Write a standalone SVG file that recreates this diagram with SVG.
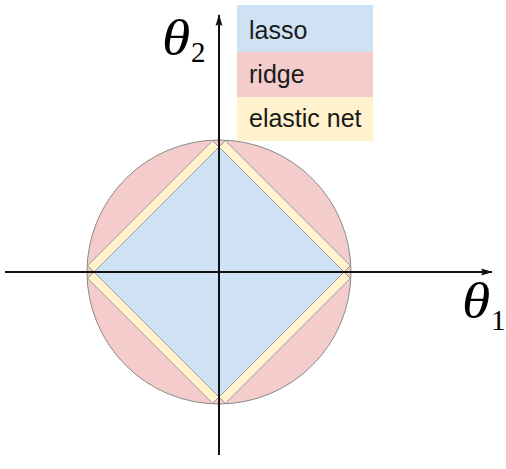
<svg xmlns="http://www.w3.org/2000/svg" width="506" height="469" viewBox="0 0 506 469">
  <style>
    .strip { fill: #fff2cc; stroke: #999999; stroke-width: 1; stroke-linejoin: round; }
    .axis { stroke: #111111; stroke-width: 2; fill: none; }
    .leg { font-family: "Liberation Sans", Arial, sans-serif; font-size: 25px; fill: #1a1a1a; }
    .theta { font-family: "Liberation Serif", "DejaVu Serif", serif; font-size: 50px; font-style: italic; fill: #000000; }
    .sub { font-family: "Liberation Serif", "DejaVu Serif", serif; font-size: 29px; fill: #000000; }
  </style>
  <defs>
    <marker id="arrow" viewBox="0 0 12 8" refX="11" refY="4" markerWidth="12" markerHeight="8" markerUnits="userSpaceOnUse" orient="auto">
      <path d="M0,0.5 L12,4 L0,7.5 L2,4 z" fill="#111111"/>
    </marker>
  </defs>
  <rect width="506" height="469" fill="#ffffff"/>

  <g id="ridge">
    <circle cx="219" cy="272" r="132" fill="#f4cccc" stroke="#8a8a8a" stroke-width="1"/>
  </g>
  <g id="elastic-net">
    <polygon class="strip" points="219,147 344,272 350.4,265.6 225.4,140.6"/>
    <polygon class="strip" points="219,147 94,272 87.6,265.6 212.6,140.6"/>
    <polygon class="strip" points="219,397 344,272 350.4,278.4 225.4,403.4"/>
    <polygon class="strip" points="219,397 94,272 87.6,278.4 212.6,403.4"/>
  </g>
  <g id="lasso">
    <polygon points="219,147 344,272 219,397 94,272" fill="#cfe2f3" stroke="#999999" stroke-width="1"/>
  </g>

  <g id="connectors">
    <line class="axis" x1="5" y1="272" x2="492" y2="272" marker-end="url(#arrow)"/>
    <line class="axis" x1="219" y1="455" x2="219" y2="15" marker-end="url(#arrow)"/>
  </g>

  <g id="label-theta2">
    <text class="theta" transform="translate(162,55) scale(1.15,1)">θ</text>
    <text class="sub" x="191" y="62">2</text>
  </g>
  <g id="label-theta1">
    <text class="theta" transform="translate(462,318) scale(1.15,1)">θ</text>
    <text class="sub" x="491" y="330">1</text>
  </g>

  <g id="legend">
    <g id="legend-lasso">
      <rect x="237" y="5" width="136" height="47" fill="#cfe2f3"/>
      <text class="leg" x="249" y="39">lasso</text>
    </g>
    <g id="legend-ridge">
      <rect x="237" y="52" width="136" height="45" fill="#f4cccc"/>
      <text class="leg" x="249" y="83">ridge</text>
    </g>
    <g id="legend-elastic">
      <rect x="237" y="97" width="136" height="44" fill="#fff2cc"/>
      <text class="leg" x="249" y="127">elastic net</text>
    </g>
  </g>
</svg>
